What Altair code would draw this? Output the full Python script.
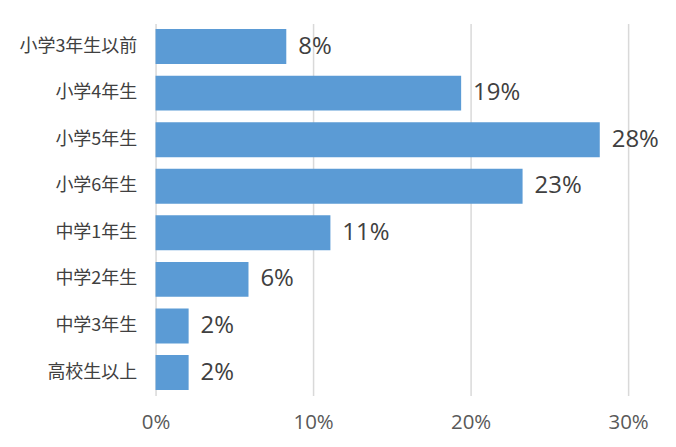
import altair as alt
import pandas as pd

categories = ["小学3年生以前", "小学4年生", "小学5年生", "小学6年生", "中学1年生", "中学2年生", "中学3年生", "高校生以上"]
values = [8.3, 19.4, 28.2, 23.3, 11.1, 5.9, 2.1, 2.1]
labels = ["8%", "19%", "28%", "23%", "11%", "6%", "2%", "2%"]

df = pd.DataFrame({"cat": categories, "val": values, "lab": labels})

CJK = "Noto Sans CJK JP"
LAT = "Open Sans"

x = alt.X("val:Q", scale=alt.Scale(domain=[0, 30], nice=False),
          axis=alt.Axis(values=[0, 10, 20, 30], labelExpr="datum.value + '%'",
                        title=None, domain=False, ticks=False, grid=True,
                        gridColor="#d9d9d9", gridWidth=1.5, labelFontSize=20.5,
                        labelColor="#595959", labelFont=LAT, labelPadding=17,
                        labelFlush=False))
y = alt.Y("cat:N", sort=categories,
          scale=alt.Scale(paddingInner=0.25, paddingOuter=0.118),
          axis=alt.Axis(title=None, domain=False, ticks=False, labelFontSize=18,
                        labelColor="#404040", labelFont=CJK, labelPadding=19))

bars = alt.Chart(df).mark_bar(color="#5b9bd5").encode(x=x, y=y)
text = alt.Chart(df).mark_text(align="left", baseline="middle", dx=12, fontSize=24,
                               color="#404040", font=LAT).encode(
    x="val:Q", y=alt.Y("cat:N", sort=categories), text="lab:N")

chart = (bars + text).properties(
    width=474, height=373,
    autosize=alt.AutoSizeParams(type="none"),
    padding={"left": 148, "top": 15, "right": 40, "bottom": 50},
).configure_view(stroke=None)

chart.save("out.html", embed_options={"renderer": "svg", "actions": False})
